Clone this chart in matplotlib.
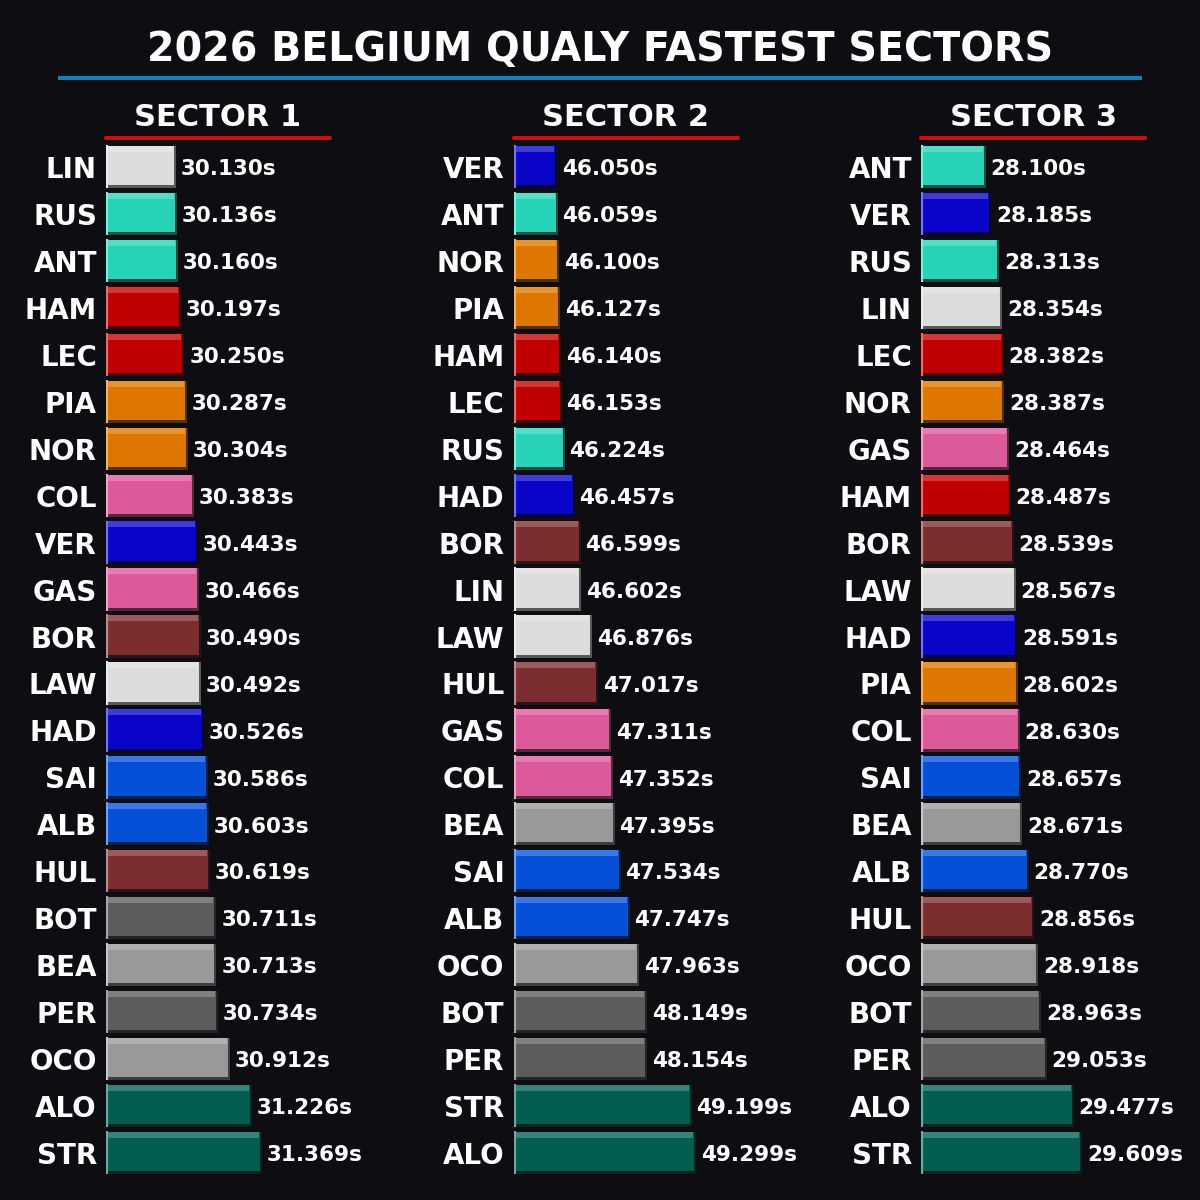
import matplotlib
matplotlib.use("Agg")
import matplotlib.pyplot as plt
from matplotlib.colors import to_rgb
from matplotlib.lines import Line2D

# ---------------- data ----------------
title = "2026 BELGIUM QUALY FASTEST SECTORS"
sector_titles = ["SECTOR 1", "SECTOR 2", "SECTOR 3"]

s1_drivers = ["LIN", "RUS", "ANT", "HAM", "LEC", "PIA", "NOR", "COL", "VER", "GAS", "BOR",
              "LAW", "HAD", "SAI", "ALB", "HUL", "BOT", "BEA", "PER", "OCO", "ALO", "STR"]
s1_times = [30.130, 30.136, 30.160, 30.197, 30.250, 30.287, 30.304, 30.383, 30.443, 30.466, 30.490,
            30.492, 30.526, 30.586, 30.603, 30.619, 30.711, 30.713, 30.734, 30.912, 31.226, 31.369]

s2_drivers = ["VER", "ANT", "NOR", "PIA", "HAM", "LEC", "RUS", "HAD", "BOR", "LIN", "LAW",
              "HUL", "GAS", "COL", "BEA", "SAI", "ALB", "OCO", "BOT", "PER", "STR", "ALO"]
s2_times = [46.050, 46.059, 46.100, 46.127, 46.140, 46.153, 46.224, 46.457, 46.599, 46.602, 46.876,
            47.017, 47.311, 47.352, 47.395, 47.534, 47.747, 47.963, 48.149, 48.154, 49.199, 49.299]

s3_drivers = ["ANT", "VER", "RUS", "LIN", "LEC", "NOR", "GAS", "HAM", "BOR", "LAW", "HAD",
              "PIA", "COL", "SAI", "BEA", "ALB", "HUL", "OCO", "BOT", "PER", "ALO", "STR"]
s3_times = [28.100, 28.185, 28.313, 28.354, 28.382, 28.387, 28.464, 28.487, 28.539, 28.567, 28.591,
            28.602, 28.630, 28.657, 28.671, 28.770, 28.856, 28.918, 28.963, 29.053, 29.477, 29.609]

driver_colors = {
    "LIN": "#DCDCDC", "LAW": "#DCDCDC",
    "RUS": "#27D3B6", "ANT": "#27D3B6",
    "HAM": "#C00000", "LEC": "#C00000",
    "PIA": "#DD7700", "NOR": "#DD7700",
    "COL": "#DC5A9A", "GAS": "#DC5A9A",
    "VER": "#0A04C8", "HAD": "#0A04C8",
    "BOR": "#7B2D30", "HUL": "#7B2D30",
    "SAI": "#0650D8", "ALB": "#0650D8",
    "BEA": "#999999", "OCO": "#999999",
    "BOT": "#5C5C5C", "PER": "#5C5C5C",
    "ALO": "#035E51", "STR": "#035E51",
}

sectors = [(s1_drivers, s1_times), (s2_drivers, s2_times), (s3_drivers, s3_times)]

# ---------------- style ----------------
BG = "#0E0E12"
FONT = "DejaVu Sans"
plt.rcParams["font.family"] = [FONT]


def blend(c, other, t):
    a = to_rgb(c)
    b = to_rgb(other)
    return tuple(a[i] * (1 - t) + b[i] * t for i in range(3))


W, H = 1200, 1200
fig = plt.figure(figsize=(12, 12), dpi=100, facecolor=BG)

# title and blue rule
fig.text(600 / W, 1 - 50 / H, title, ha="center", va="center", color="white",
         fontsize=28.5, fontweight="bold")
fig.add_artist(Line2D([58 / W, 1142 / W], [1 - 78 / H, 1 - 78 / H], color="#1A7CB8",
                      lw=3.0, solid_capstyle="butt"))

ax_lefts = [106, 513.5, 921]
ax_w = 224
ax_top = 143.5
ax_bot = 1176.5
ax_h = ax_bot - ax_top
row_px = ax_h / 22.0

for (drivers, times), left, stitle in zip(sectors, ax_lefts, sector_titles):
    ax = fig.add_axes([left / W, 1 - ax_bot / H, ax_w / W, ax_h / H])
    ax.set_facecolor(BG)
    lo = min(times) - 1.0
    hi = max(times) + 1.0
    ax.set_xlim(lo, hi)
    ax.set_ylim(len(drivers) - 0.5, -0.5)
    dx = (hi - lo) / ax_w
    ys = list(range(len(drivers)))
    cols = [driver_colors[d] for d in drivers]
    widths = [t - lo for t in times]

    dark = [blend(c, "#000000", 0.6) for c in cols]
    light = [blend(c, "#FFFFFF", 0.22) for c in cols]
    edge = [blend(c, "#FFFFFF", 0.45) for c in cols]

    bh = 0.9
    bot_px = 3.0 / row_px
    hl = 6.0 / row_px
    # shadow/outline
    ax.barh(ys, [w + dx for w in widths], left=lo, height=bh, color=dark, linewidth=0)
    # main body
    ax.barh([y - bot_px / 2 for y in ys], [w - dx for w in widths], left=lo,
            height=bh - bot_px, color=cols, linewidth=0)
    # top highlight
    ax.barh([y - bh / 2 + hl / 2 for y in ys], [w - 2 * dx for w in widths], left=lo,
            height=hl, color=light, linewidth=0)
    # left bright edge
    ax.vlines([lo + 1.2 * dx] * len(ys), [y - bh / 2 - 0.02 for y in ys],
              [y + bh / 2 for y in ys], colors=edge, lw=1.6)

    for y, t in zip(ys, times):
        ax.annotate(f"{t:.3f}s", xy=(t, y), xytext=(4.2, -5.9), textcoords="offset points",
                    ha="left", va="baseline", color="white", fontsize=15.5,
                    fontweight="bold", annotation_clip=False)

    ax.set_yticks(ys)
    ax.set_yticklabels(drivers, color="white", fontsize=20, fontweight="bold")
    ax.tick_params(axis="y", length=0, pad=6.5)
    ax.set_xticks([])
    for s in ax.spines.values():
        s.set_visible(False)

    # sector title + red rule
    ax.text(0.5, 1 + (ax_top - 117) / ax_h, stitle, transform=ax.transAxes, ha="center",
            va="center", color="white", fontsize=22, fontweight="bold")
    ax.add_line(Line2D([0, 1], [1 + 5.5 / ax_h, 1 + 5.5 / ax_h], transform=ax.transAxes,
                       color="#C41212", lw=3.0, clip_on=False, solid_capstyle="round"))

fig.savefig("out.png", dpi=100, facecolor=BG)
